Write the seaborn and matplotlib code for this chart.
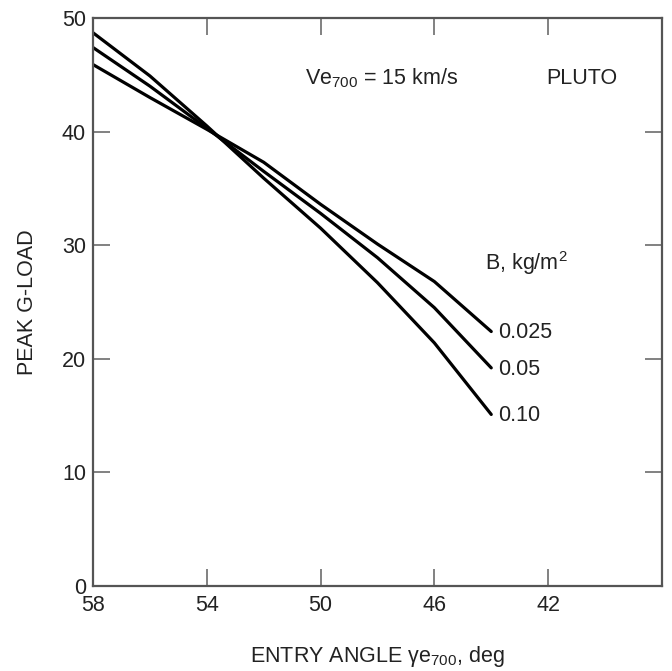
import numpy as np
import pandas as pd
import matplotlib
matplotlib.use("Agg")
import matplotlib.pyplot as plt
import seaborn as sns

# Peak deceleration vs. entry flight-path angle, Pluto entry at 15 km/s
angle = [58, 56, 54, 52, 50, 48, 46, 44]
g_b010 = [48.7, 44.9, 40.5, 35.9, 31.5, 26.7, 21.4, 15.1]
g_b005 = [47.4, 44.0, 40.3, 36.5, 32.8, 28.9, 24.5, 19.2]
g_b0025 = [45.9, 43.0, 40.2, 37.3, 33.6, 30.1, 26.8, 22.4]
b_labels = ["0.10", "0.05", "0.025"]
x_ticks = [58, 54, 50, 46, 42]
y_ticks = [0, 10, 20, 30, 40, 50]

df = pd.concat([
    pd.DataFrame({"angle": angle, "g": vals, "B": lab})
    for vals, lab in zip([g_b010, g_b005, g_b0025], b_labels)
])

sns.set_style("ticks")
plt.rcParams["font.family"] = ["Liberation Sans", "DejaVu Sans"]
plt.rcParams["mathtext.fontset"] = "custom"
plt.rcParams["mathtext.rm"] = "Liberation Sans"
plt.rcParams["mathtext.it"] = "Liberation Sans:italic"
plt.rcParams["mathtext.default"] = "rm"

FS = 15.5
TXT = "#222222"

fig = plt.figure(figsize=(6.72, 6.71), dpi=100)
ax = fig.add_axes([0.1384, 0.1267, 0.8466, 0.8465])

sns.lineplot(data=df, x="angle", y="g", hue="B", palette=["black"] * 3,
             linewidth=2.3, legend=False, ax=ax, sort=False, estimator=None)

ax.set_xlim(58, 38)
ax.set_ylim(0, 50)
ax.set_xticks(x_ticks)
ax.set_yticks(y_ticks)
ax.tick_params(direction="in", length=12, width=1.3, color="#777777",
               labelsize=FS, top=True, right=True, labelcolor=TXT)
ax.tick_params(axis="x", pad=6.5)
ax.tick_params(axis="y", pad=5)
for s in ax.spines.values():
    s.set_color("#555555")
    s.set_linewidth(1.6)

ax.set_xlabel("ENTRY ANGLE \u03b3e$_{700}$, deg", fontsize=FS, labelpad=20,
              color=TXT)
ax.set_ylabel("PEAK G-LOAD", fontsize=FS, labelpad=17, color=TXT)

# Annotations
ax.text(50.56, 44.7, "Ve$_{700}$ = 15 km/s", fontsize=FS, va="center",
        ha="left", color=TXT)
ax.text(42.07, 44.7, "PLUTO", fontsize=FS, va="center", ha="left",
        color=TXT)
ax.text(44.21, 28.4, "B, kg/m$^{2}$", fontsize=FS, va="center", ha="left",
        color=TXT)
for vals, lab in zip([g_b0025, g_b005, g_b010], ["0.025", "0.05", "0.10"]):
    ax.text(angle[-1] - 0.25, vals[-1] - 0.1, lab, fontsize=FS, va="center",
            ha="left", color=TXT)

fig.savefig("out.png", dpi=100)
